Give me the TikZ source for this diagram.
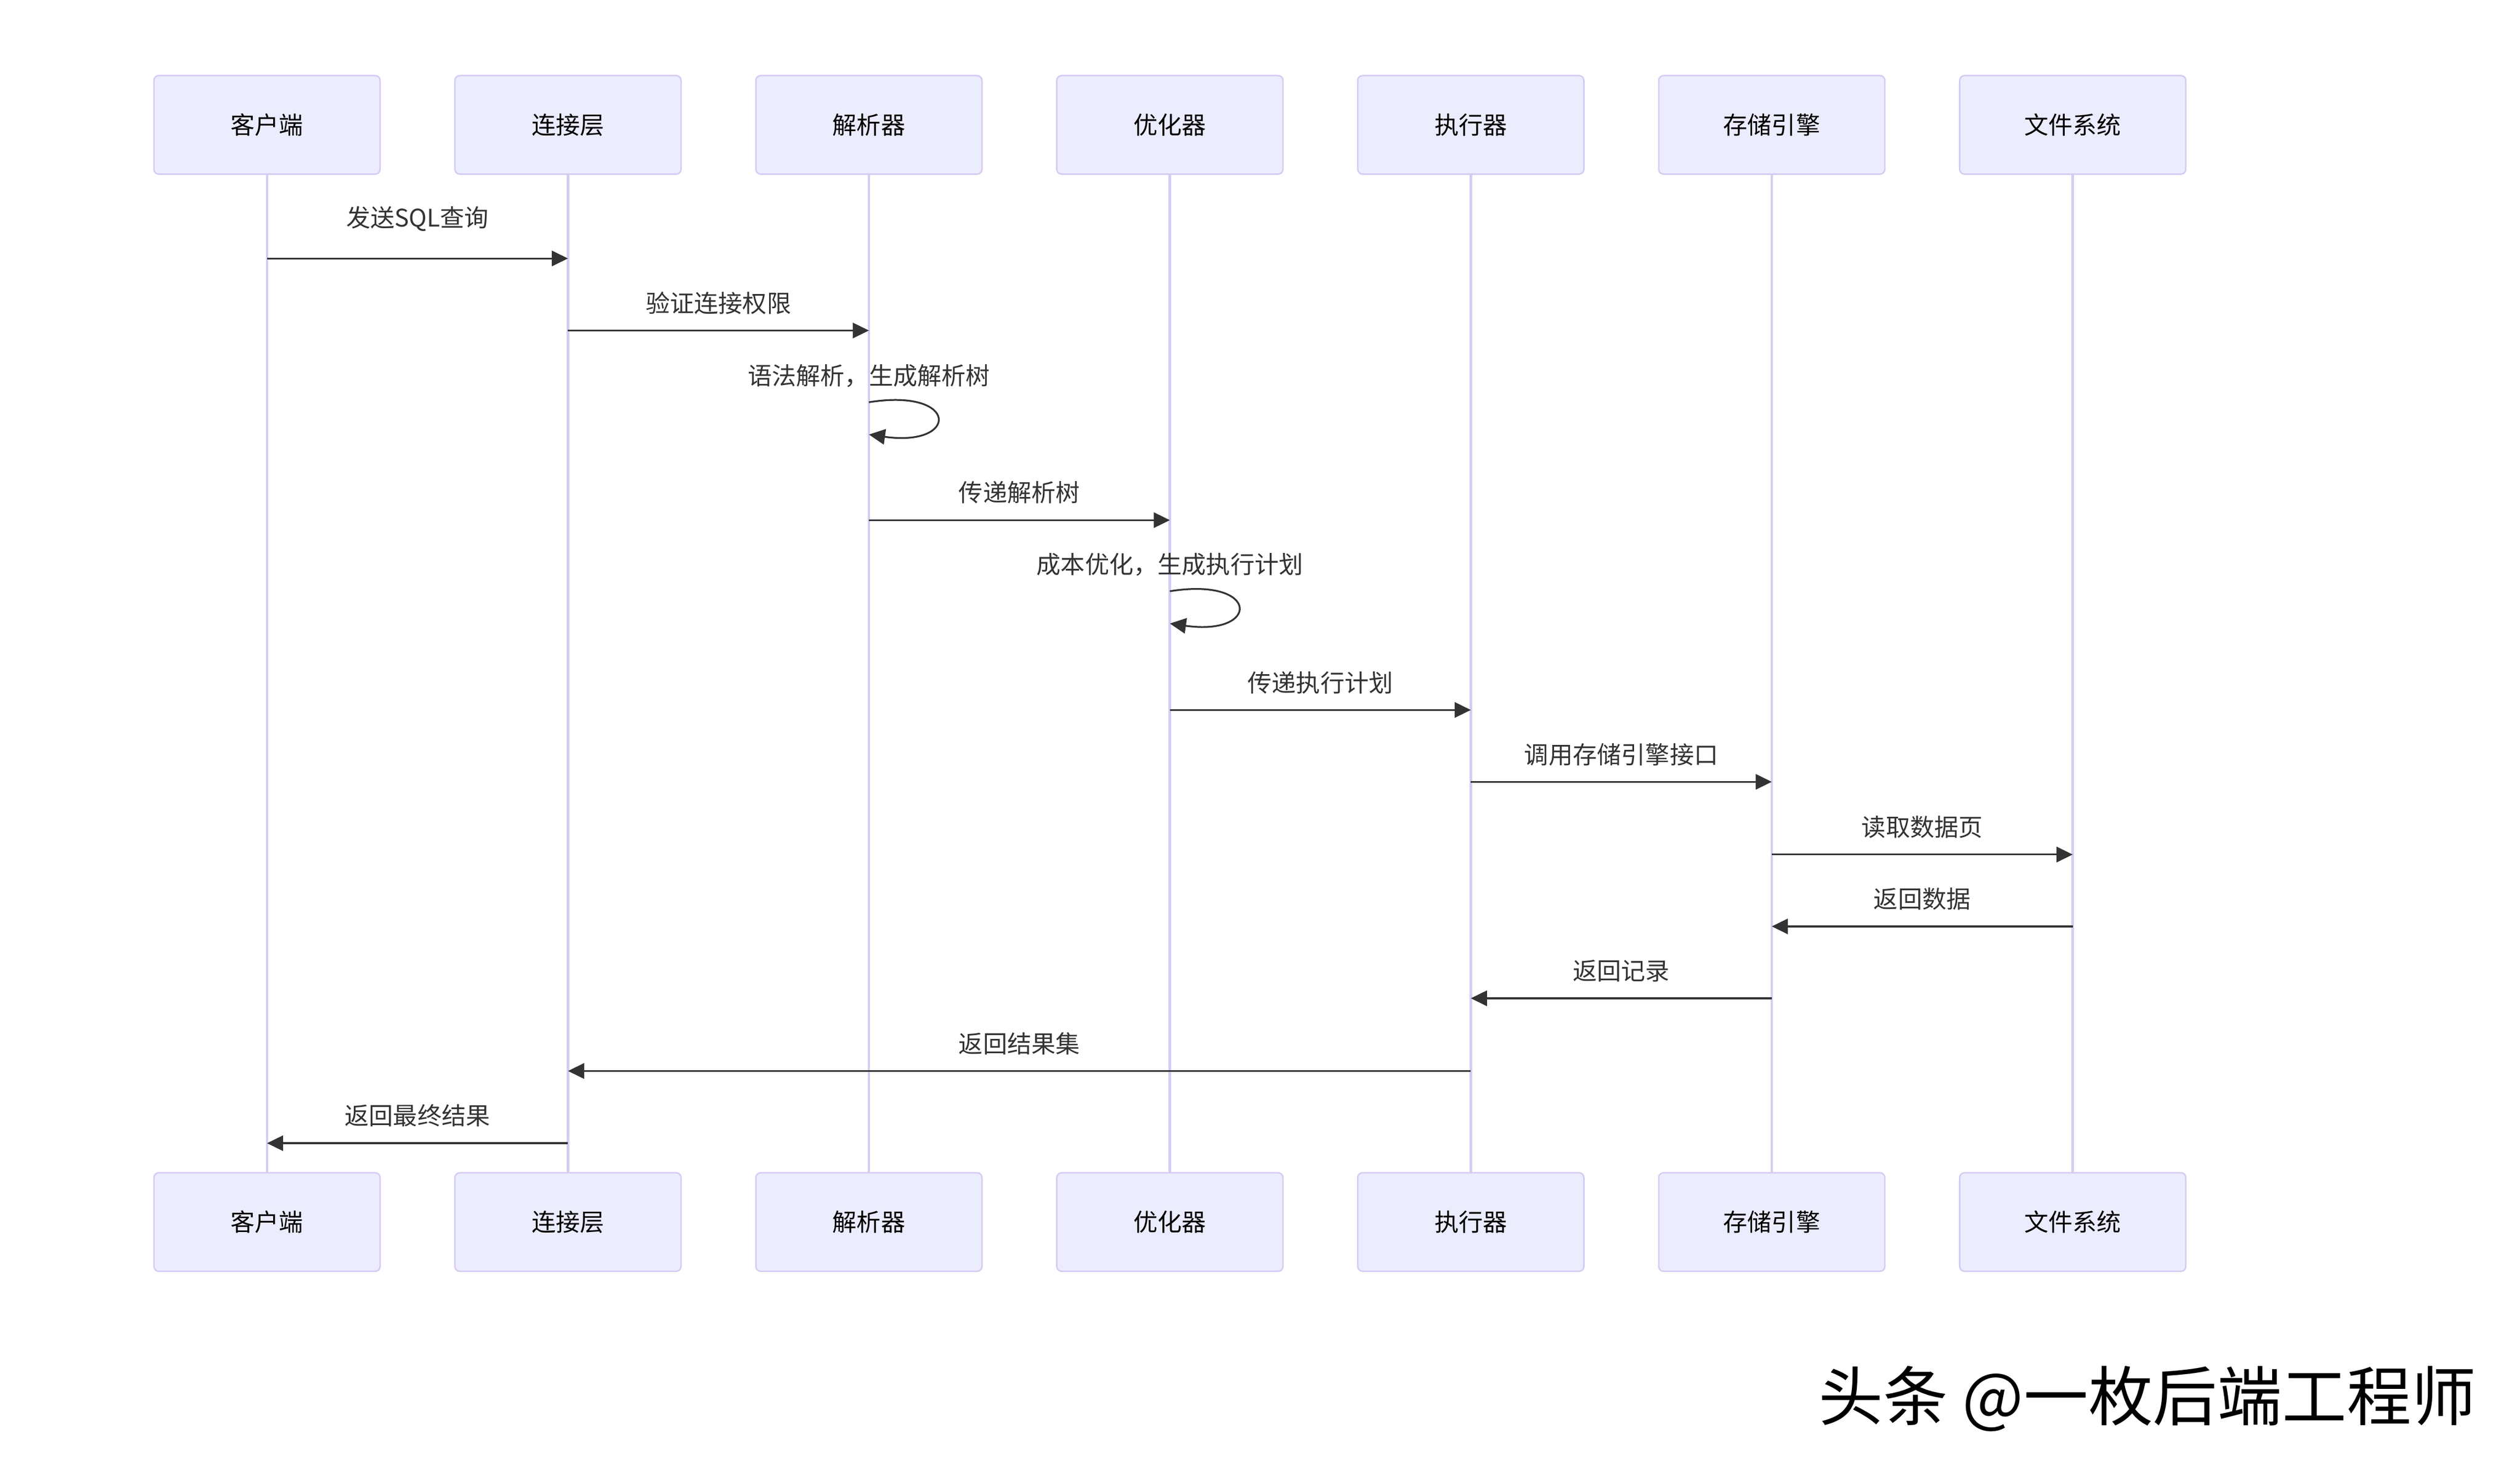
\documentclass[tikz,border=0pt]{standalone}
\usepackage{fontspec}
\setmainfont{Noto Sans CJK SC}
\usetikzlibrary{arrows.meta,calc}
\definecolor{actorfill}{HTML}{ECECFF}
\definecolor{actorline}{HTML}{D6CCF2}
\definecolor{msgcol}{HTML}{333333}
\begin{document}
\begin{tikzpicture}[x=1pt, y=-1pt,
  actor/.style={draw=actorline, line width=0.9pt, fill=actorfill, rounded corners=3pt,
    minimum width=140pt, minimum height=61pt, inner sep=0pt, font=\fontsize{15pt}{18pt}\selectfont},
  life/.style={actorline, line width=1.5pt},
  msg/.style={msgcol, line width=1.1pt, -{Triangle[length=10pt,width=9.5pt]}},
  lbl/.style={text=msgcol, yshift=17pt, font=\fontsize{15pt}{18pt}\selectfont}]
  \useasboundingbox (0,0) rectangle (1560,913.1);

  % actors, top row
  \node[actor] (client) at (165.3,77.3)  {客户端};
  \node[actor] (conn)   at (351.6,77.3)  {连接层};
  \node[actor] (parser) at (537.9,77.3)  {解析器};
  \node[actor] (optim)  at (724.2,77.3)  {优化器};
  \node[actor] (exec)   at (910.5,77.3)  {执行器};
  \node[actor] (engine) at (1096.8,77.3) {存储引擎};
  \node[actor] (fs)     at (1283.1,77.3) {文件系统};
  % actors, bottom row
  \node[actor] (client2) at (165.3,756.5)  {客户端};
  \node[actor] (conn2)   at (351.6,756.5)  {连接层};
  \node[actor] (parser2) at (537.9,756.5)  {解析器};
  \node[actor] (optim2)  at (724.2,756.5)  {优化器};
  \node[actor] (exec2)   at (910.5,756.5)  {执行器};
  \node[actor] (engine2) at (1096.8,756.5) {存储引擎};
  \node[actor] (fs2)     at (1283.1,756.5) {文件系统};

  % lifelines
  \draw[life] (client.south) -- (client2.north);
  \draw[life] (conn.south) -- (conn2.north);
  \draw[life] (parser.south) -- (parser2.north);
  \draw[life] (optim.south) -- (optim2.north);
  \draw[life] (exec.south) -- (exec2.north);
  \draw[life] (engine.south) -- (engine2.north);
  \draw[life] (fs.south) -- (fs2.north);

  % message rows
  \coordinate (r1) at (0,160);
  \coordinate (r2) at (0,204.6);
  \coordinate (r3) at (0,249);
  \coordinate (r4) at (0,322);
  \coordinate (r5) at (0,366);
  \coordinate (r6) at (0,439.5);
  \coordinate (r7) at (0,484);
  \coordinate (r8) at (0,529);
  \coordinate (r9) at (0,573.5);
  \coordinate (r10) at (0,618);
  \coordinate (r11) at (0,663);
  \coordinate (r12) at (0,707.7);

  \draw[msg] (client |- r1) -- (conn |- r1) node[midway, lbl, yshift=7.7pt]{发送SQL查询};
  \draw[msg] (conn |- r2) -- (parser |- r2) node[midway, lbl]{验证连接权限};
  \coordinate (l1a) at (parser |- r3);
  \coordinate (l1b) at ($(l1a)+(0,20)$);
  \draw[msg] (l1a) node[lbl, yshift=-0.6pt]{语法解析，生成解析树}
    .. controls ($(l1a)+(56,-9)$) and ($(l1a)+(56,28)$) .. (l1b);
  \draw[msg] (parser |- r4) -- (optim |- r4) node[midway, lbl]{传递解析树};
  \coordinate (l2a) at (optim |- r5);
  \coordinate (l2b) at ($(l2a)+(0,20)$);
  \draw[msg] (l2a) node[lbl, yshift=-0.6pt]{成本优化，生成执行计划}
    .. controls ($(l2a)+(56,-9)$) and ($(l2a)+(56,28)$) .. (l2b);
  \draw[msg] (optim |- r6) -- (exec |- r6) node[midway, lbl]{传递执行计划};
  \draw[msg] (exec |- r7) -- (engine |- r7) node[midway, lbl]{调用存储引擎接口};
  \draw[msg] (engine |- r8) -- (fs |- r8) node[midway, lbl]{读取数据页};
  \draw[msg] (fs |- r9) -- (engine |- r9) node[midway, lbl]{返回数据};
  \draw[msg] (engine |- r10) -- (exec |- r10) node[midway, lbl]{返回记录};
  \draw[msg] (exec |- r11) -- (conn |- r11) node[midway, lbl]{返回结果集};
  \draw[msg] (conn |- r12) -- (client |- r12) node[midway, lbl]{返回最终结果};

  \node[anchor=east, inner sep=0pt, font=\fontsize{40pt}{45pt}\selectfont] (mark) at (1533,866) {头条 @一枚后端工程师};
\end{tikzpicture}
\end{document}
